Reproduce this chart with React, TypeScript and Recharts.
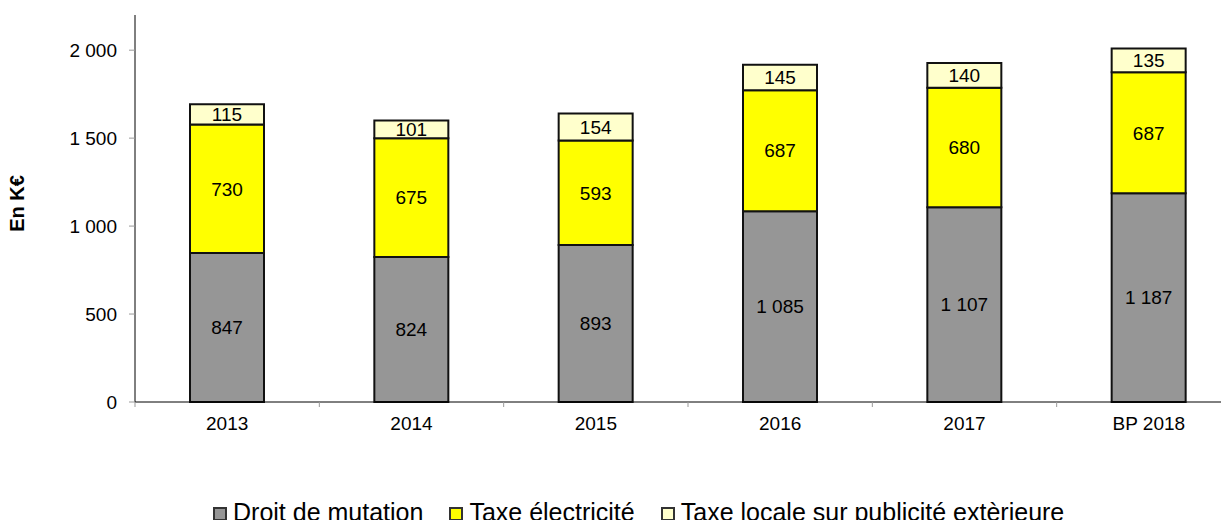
import { BarChart, Bar, XAxis, YAxis, Legend, LabelList } from "recharts";

const years = ["2013", "2014", "2015", "2016", "2017", "BP 2018"];
const droitMutation = [847, 824, 893, 1085, 1107, 1187];
const taxeElectricite = [730, 675, 593, 687, 680, 687];
const taxePublicite = [115, 101, 154, 145, 140, 135];
const yTicks = [0, 500, 1000, 1500, 2000];
const seriesNames = ["Droit de mutation", "Taxe électricité", "Taxe locale sur publicité extèrieure"];

const data = years.map((year, i) => ({
  year,
  mutation: droitMutation[i],
  electricite: taxeElectricite[i],
  publicite: taxePublicite[i],
}));

const FONT = "'Liberation Sans', Arial, sans-serif";

const fmt = (v: any) => String(v).replace(/\B(?=(\d{3})+(?!\d))/g, " ");

// category tick: label plus a small boundary mark on the left edge of the band
const YearTick = (props: any) => {
  const { x, y, payload } = props;
  const half = payload && payload.offset ? payload.offset : 92;
  const axisY = y - 15;
  return (
    <g>
      <line x1={x - half} x2={x - half} y1={axisY} y2={axisY + 5} stroke="#999" strokeWidth={1} />
      <text x={x} y={axisY + 15} dy="0.71em" textAnchor="middle" fontSize={19} fontFamily={FONT} fill="#000">
        {payload.value}
      </text>
    </g>
  );
};

const LegendContent = (props: any) => {
  // keep the series order, recharts sorts legend items by name otherwise
  const items = [...(props.payload || [])].sort(
    (a: any, b: any) => seriesNames.indexOf(a.value) - seriesNames.indexOf(b.value)
  );
  return (
    <div style={{ display: "flex", alignItems: "baseline", paddingLeft: 213, fontFamily: FONT, fontSize: 25, lineHeight: "25px", color: "#000" }}>
      {items.map((item: any, i: number) => (
        <span key={i} style={{ display: "inline-flex", alignItems: "baseline", marginRight: 26, whiteSpace: "nowrap" }}>
          <span
            style={{
              display: "inline-block",
              width: 10,
              height: 10,
              background: item.color,
              border: "2px solid #333",
              marginRight: 6,
            }}
          />
          {item.value}
        </span>
      ))}
    </div>
  );
};

export default function App() {
  return (
    <div style={{ margin: -8, width: 1229, height: 528, overflow: "hidden", background: "#fff" }}>
      <BarChart
        width={1245}
        height={528}
        data={data}
        margin={{ top: 15, right: 4, left: 0, bottom: 96 }}
        barSize={74}
      >
        <XAxis
          dataKey="year"
          height={30}
          axisLine={{ stroke: "#000", strokeWidth: 1 }}
          tickLine={false}
          tickSize={5}
          tickMargin={10}
          tick={<YearTick />}
          interval={0}
        />
        <YAxis
          width={135}
          domain={[0, 2200]}
          ticks={yTicks}
          interval={0}
          axisLine={{ stroke: "#000", strokeWidth: 1 }}
          tickLine={{ stroke: "#999" }}
          tickSize={6}
          tickMargin={12}
          tickFormatter={fmt}
          tick={{ fontSize: 19, fontFamily: FONT, fill: "#000" }}
          label={(p: any) => {
            const vb = p.viewBox || { x: 0, y: 15, height: 387 };
            const cx = vb.x + 17;
            const cy = vb.y + vb.height / 2 - 5;
            return (
              <text
                x={cx}
                y={cy}
                transform={`rotate(-90, ${cx}, ${cy})`}
                textAnchor="middle"
                dominantBaseline="central"
                fontSize={20}
                fontWeight="bold"
                fontFamily={FONT}
                fill="#000"
              >
                En K€
              </text>
            );
          }}
        />
        <Legend
          verticalAlign="middle"
          align="center"
          wrapperStyle={{ top: 500, left: 0, width: 1229 }}
          content={<LegendContent />}
        />
        <Bar dataKey="mutation" name={seriesNames[0]} stackId="a" fill="#969696" stroke="#111" strokeWidth={2} isAnimationActive={false}>
          <LabelList dataKey="mutation" position="center" formatter={fmt} fontSize={19} fontFamily={FONT} fill="#000" />
        </Bar>
        <Bar dataKey="electricite" name={seriesNames[1]} stackId="a" fill="#FFFF00" stroke="#111" strokeWidth={2} isAnimationActive={false}>
          <LabelList dataKey="electricite" position="center" formatter={fmt} fontSize={19} fontFamily={FONT} fill="#000" />
        </Bar>
        <Bar dataKey="publicite" name={seriesNames[2]} stackId="a" fill="#FFFFCC" stroke="#111" strokeWidth={2} isAnimationActive={false}>
          <LabelList dataKey="publicite" position="center" formatter={fmt} fontSize={19} fontFamily={FONT} fill="#000" />
        </Bar>
      </BarChart>
    </div>
  );
}
